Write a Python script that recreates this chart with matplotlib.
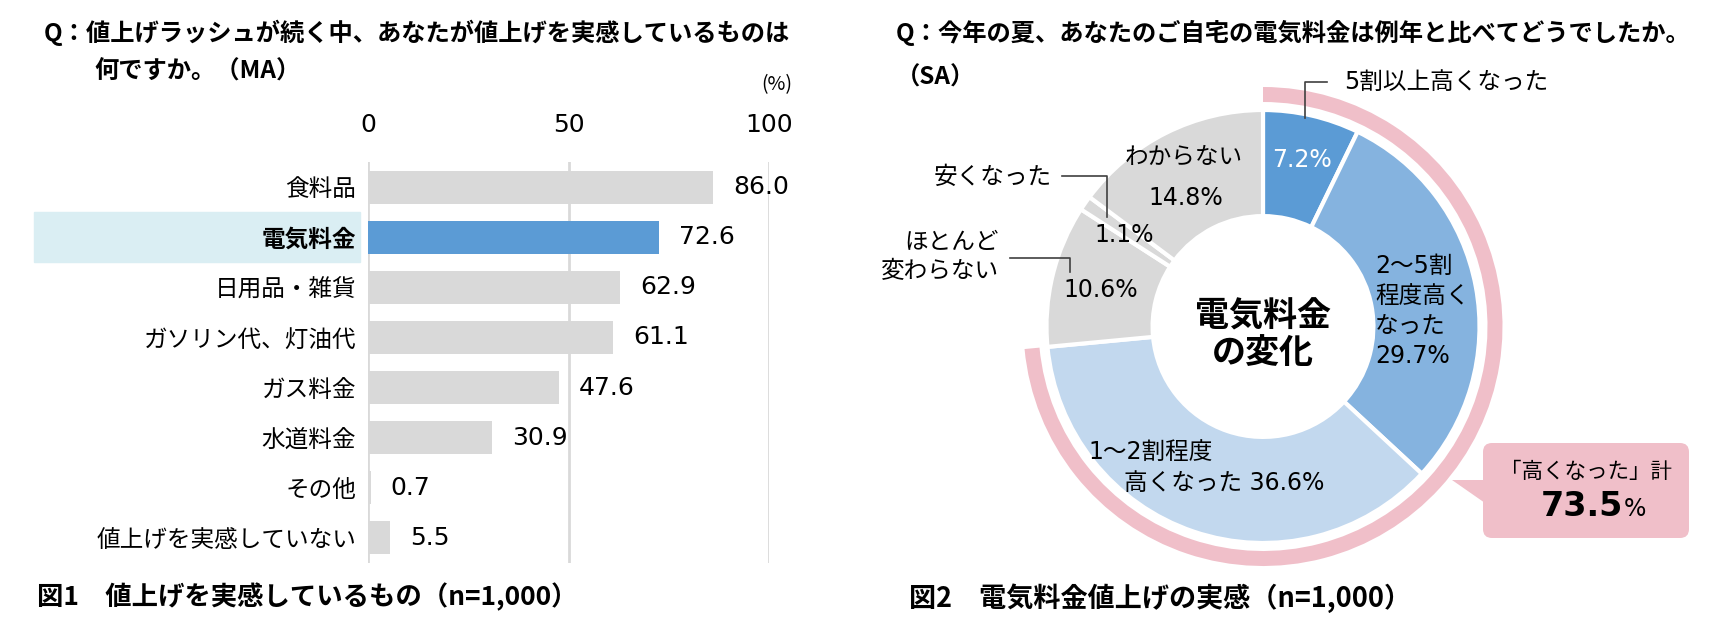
"""
Two panels: bar chart of items felt to be rising in price, and donut of electricity bill change.
"""

import matplotlib
matplotlib.use("Agg")
import matplotlib.pyplot as plt
from matplotlib.patches import Rectangle, FancyBboxPatch, Polygon
from matplotlib.transforms import blended_transform_factory

plt.rcParams['font.family'] = ['Noto Sans CJK JP', 'DejaVu Sans']
NUM = ['DejaVu Sans', 'Noto Sans CJK JP']   # wider digits, kana fall back

W, H = 1733, 637

# --- data -------------------------------------------------------------
bar_labels = ["食料品", "電気料金", "日用品・雑貨", "ガソリン代、灯油代",
              "ガス料金", "水道料金", "その他", "値上げを実感していない"]
bar_values = [86.0, 72.6, 62.9, 61.1, 47.6, 30.9, 0.7, 5.5]
highlight = "電気料金"
bar_ticks = [0, 50, 100]

pie_labels = ["5割以上高くなった", "2～5割程度高くなった", "1～2割程度高くなった",
              "ほとんど変わらない", "安くなった", "わからない"]
pie_values = [7.2, 29.7, 36.6, 10.6, 1.1, 14.8]
pie_colors = ["#5b9bd5", "#85b3df", "#c2d8ee", "#d9d9d9", "#d9d9d9", "#d9d9d9"]
high_total = sum(pie_values[:3])

GRAY = "#d9d9d9"
BLUE = "#5b9bd5"
PINK = "#f0bfc9"
HILITE = "#daeef3"

fig = plt.figure(figsize=(W / 100, H / 100), dpi=100)

# --- left: bar chart --------------------------------------------------
ax = fig.add_axes([368 / W, 1 - 563 / H, 401 / W, 401 / H])
ypos = list(range(len(bar_values)))
cols = [BLUE if l == highlight else GRAY for l in bar_labels]
ax.barh(ypos, bar_values, height=0.66, color=cols, zorder=2)
ax.set_xlim(0, 100)
ax.set_ylim(len(bar_values) - 0.5, -0.5)
ax.set_xticks(bar_ticks)
ax.set_xticklabels([str(t) for t in bar_ticks], fontsize=18, family=NUM)
ax.xaxis.set_ticks_position('top')
ax.tick_params(axis='x', length=0, pad=18)
ax.set_yticks(ypos)
ax.set_yticklabels(bar_labels, fontsize=17)
ax.tick_params(axis='y', length=0, pad=8.5)
for lab in ax.get_yticklabels():
    if lab.get_text() == highlight:
        lab.set_fontweight('bold')
ax.grid(axis='x', color=GRAY, lw=2)
ax.set_axisbelow(True)
for s in ax.spines.values():
    s.set_visible(False)
for i, v in enumerate(bar_values):
    ax.text(v + 5, i, f"{v:.1f}", va='center', ha='left', fontsize=18, family=NUM)

hi = bar_labels.index(highlight)
trans = blended_transform_factory(fig.transFigure, ax.transData)
ax.add_patch(Rectangle((34 / W, hi - 0.5), (360 - 34) / W, 1.0, transform=trans,
                       color=HILITE, clip_on=False, zorder=0))

# --- right: donut -----------------------------------------------------
R = 216.5
cx, cy = 1263, 326.5
half = 260
pax = fig.add_axes([(cx - half) / W, 1 - (cy + half) / H, 2 * half / W, 2 * half / H])
pax.pie(pie_values, colors=pie_colors, startangle=90, counterclock=False, radius=1.0,
        wedgeprops=dict(width=0.49, edgecolor='white', linewidth=3))
pax.pie([high_total, 100 - high_total], colors=[PINK, 'none'], startangle=90,
        counterclock=False, radius=239.5 / R, wedgeprops=dict(width=15 / R, linewidth=0))
pax.set_xlim(-half / R, half / R)
pax.set_ylim(-half / R, half / R)
pax.axis('off')

# --- overlay in pixel coordinates for texts and callouts --------------
ov = fig.add_axes([0, 0, 1, 1], zorder=5)
ov.set_xlim(0, W)
ov.set_ylim(H, 0)
ov.axis('off')

ov.text(44, 33, "Q：値上げラッシュが続く中、あなたが値上げを実感しているものは",
        fontsize=17.5, fontweight='bold', va='center')
ov.text(94, 72, "何ですか。（MA）", fontsize=17.5, fontweight='bold', va='center')
ov.text(792, 85, "(%)", fontsize=14, ha='right', va='center')
ov.text(37, 597, "図1\u3000値上げを実感しているもの（n=1,000）",
        fontsize=19, fontweight='bold', va='center')

ov.text(896, 33, "Q：今年の夏、あなたのご自宅の電気料金は例年と比べてどうでしたか。",
        fontsize=17.5, fontweight='bold', va='center')
ov.text(896, 78, "（SA）", fontsize=17.5, fontweight='bold', va='center')
ov.text(909, 598, "図2\u3000電気料金値上げの実感（n=1,000）",
        fontsize=19.5, fontweight='bold', va='center')

lc = "#404040"
fs = 17
# 5割以上
ov.text(1344, 82, pie_labels[0], fontsize=fs, va='center', family=NUM)
ov.plot([1327, 1305, 1305], [82, 82, 118], color=lc, lw=1.2)
ov.text(1302, 160, f"{pie_values[0]}%", fontsize=fs, color='white', ha='center',
        va='center', family=NUM)
# 2～5割
ov.text(1375, 311, f"2～5割\n程度高く\nなった\n{pie_values[1]}%", fontsize=fs,
        va='center', ha='left', linespacing=1.3, family=NUM)
# 1～2割
ov.text(1088, 452, "1～2割程度", fontsize=fs, va='center', family=NUM)
ov.text(1124, 483, f"高くなった {pie_values[2]}%", fontsize=fs, va='center', family=NUM)
# ほとんど変わらない
ov.text(999, 257, "ほとんど\n変わらない", fontsize=fs, ha='right', va='center',
        multialignment='right', linespacing=1.3)
ov.plot([1010, 1070, 1070], [258, 258, 272], color=lc, lw=1.2)
ov.text(1101, 290, f"{pie_values[3]}%", fontsize=fs, ha='center', va='center', family=NUM)
# 安くなった
ov.text(1052, 177, pie_labels[4], fontsize=fs, ha='right', va='center')
ov.plot([1062, 1107, 1107], [176, 176, 217], color=lc, lw=1.2)
ov.text(1124, 235, f"{pie_values[4]}%", fontsize=fs, ha='center', va='center', family=NUM)
# わからない
ov.text(1184, 157, pie_labels[5], fontsize=fs, ha='center', va='center')
ov.text(1186, 198, f"{pie_values[5]}%", fontsize=fs, ha='center', va='center', family=NUM)
# center
ov.text(cx, 334, "電気料金\nの変化", fontsize=24.5, fontweight='bold',
        ha='center', va='center', linespacing=1.05)

# callout
ov.add_patch(FancyBboxPatch((1483, 443), 206, 95, boxstyle="round,pad=0,rounding_size=9",
                            facecolor=PINK, edgecolor='none'))
ov.add_patch(Polygon([(1452, 480), (1485, 480), (1485, 503)], closed=True,
                     facecolor=PINK, edgecolor='none'))
ov.text(1586, 472, "「高くなった」計", fontsize=15.5, ha='center', va='center')
ov.text(1623, 507, f"{high_total:.1f}", fontsize=24, fontweight='bold',
        family='DejaVu Sans', ha='right', va='center')
ov.text(1624, 509, "%", fontsize=17, family='DejaVu Sans', ha='left', va='center')

fig.savefig("out.png", dpi=100)
